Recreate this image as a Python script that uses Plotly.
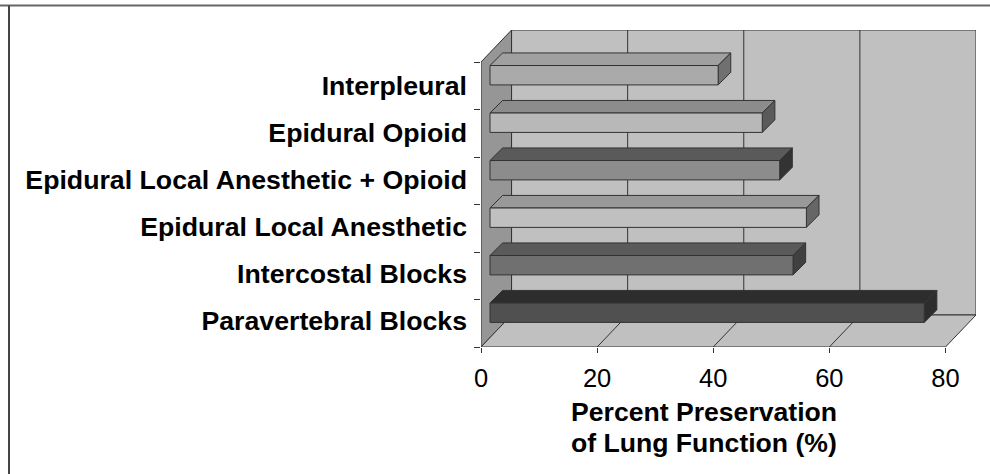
import plotly.graph_objects as go

categories = ["Paravertebral Blocks", "Intercostal Blocks", "Epidural Local Anesthetic",
              "Epidural Local Anesthetic + Opioid", "Epidural Opioid", "Interpleural"]
values = [74.8, 52.2, 54.5, 49.9, 46.9, 39.3]
x_ticks = [0, 20, 40, 60, 80]
axis_title_lines = ["Percent Preservation", "of Lung Function (%)"]

front_colors = ["#505050", "#707070", "#c0c0c0", "#8c8c8c", "#b8b8b8", "#aaaaaa"]
top_colors = ["#2d2d2d", "#5a5a5a", "#999999", "#5a5a5a", "#8c8c8c", "#a0a0a0"]
side_colors = ["#2d2d2d", "#404040", "#666666", "#333333", "#5a5a5a", "#707070"]

LINE = "#333333"
FONT = "Liberation Sans, Arial, sans-serif"
X_MAX = 85.26
Y_MAX = 6.674
WALL_DX, WALL_DY = 5.26, 0.674
BAR_X0, FACE_Y0, FACE_Y1 = 1.55, 0.518, 0.926
BAR_DX, BAR_DY = 2.17, 0.265

n = len(categories)
fig = go.Figure()


def poly(xs, ys, fill, line=LINE, width=1):
    fig.add_trace(go.Scatter(x=xs, y=ys, mode="lines", fill="toself", fillcolor=fill,
                             line=dict(color=line, width=width), hoverinfo="skip",
                             showlegend=False, cliponaxis=False))


def seg(xs, ys, width=1):
    fig.add_trace(go.Scatter(x=xs, y=ys, mode="lines", line=dict(color=LINE, width=width),
                             hoverinfo="skip", showlegend=False, cliponaxis=False))


# walls and floor
poly([WALL_DX, X_MAX, X_MAX, WALL_DX, WALL_DX],
     [WALL_DY, WALL_DY, Y_MAX, Y_MAX, WALL_DY], "#c0c0c0")
poly([0, WALL_DX, WALL_DX, 0, 0], [0, WALL_DY, Y_MAX, n, 0], "#969696")
poly([0, x_ticks[-1], X_MAX, WALL_DX, 0], [0, 0, WALL_DY, WALL_DY, 0], "#c0c0c0")
for t in x_ticks[1:-1]:
    seg([t, t + WALL_DX, t + WALL_DX], [0, WALL_DY, Y_MAX])

# bars, back to front
for i in range(n - 1, -1, -1):
    x0, x1 = BAR_X0, BAR_X0 + values[i]
    y0, y1 = i + FACE_Y0, i + FACE_Y1
    poly([x0, x1, x1 + BAR_DX, x0 + BAR_DX, x0], [y1, y1, y1 + BAR_DY, y1 + BAR_DY, y1], top_colors[i])
    poly([x1, x1 + BAR_DX, x1 + BAR_DX, x1, x1], [y0, y0 + BAR_DY, y1 + BAR_DY, y1, y0], side_colors[i])
    poly([x0, x1, x1, x0, x0], [y0, y0, y1, y1, y0], front_colors[i])

fig.update_layout(
    width=990, height=474, autosize=False,
    margin=dict(l=481, r=14, t=30, b=127, pad=0),
    paper_bgcolor="white", plot_bgcolor="white", showlegend=False,
    font=dict(family=FONT, color="black"),
    xaxis=dict(range=[0, X_MAX], tickvals=x_ticks, ticks="outside", ticklen=5, tickwidth=1,
               tickcolor=LINE, showgrid=False, zeroline=False, showline=False,
               tickfont=dict(size=25.5), ticklabelstandoff=3),
    yaxis=dict(range=[0, Y_MAX], tickvals=[i + 0.56 - 0.012 * i for i in range(n)], ticktext=categories,
               ticks="", showgrid=False, zeroline=False, showline=False,
               ticklabelstandoff=13,
               tickfont=dict(size=26.7, family=FONT, weight="bold"),
               minor=dict(tickvals=list(range(n + 1)), ticks="outside", ticklen=6,
                          tickwidth=1, tickcolor=LINE, showgrid=False)),
    annotations=[dict(text="<b>" + line + "</b>", x=38.4, y=yy, xref="x", yref="paper",
                      yanchor="middle", xanchor="center", showarrow=False,
                      font=dict(size=26.6))
                 for line, yy in zip(axis_title_lines, [(347 - 412) / 317, (347 - 443) / 317])],
    shapes=[
        dict(type="line", xref="paper", yref="paper", x0=-481 / 495, x1=509 / 495,
             y0=341.5 / 317, y1=341.5 / 317,
             line=dict(color="#666666", width=2)),
        dict(type="line", xref="paper", yref="paper", x0=-472 / 495, x1=-472 / 495,
             y0=-127 / 317, y1=341.5 / 317,
             line=dict(color="#444444", width=2)),
    ],
)
fig.write_html("out.html", config=dict(displayModeBar=False),
               post_script="document.body.style.margin='0';")
